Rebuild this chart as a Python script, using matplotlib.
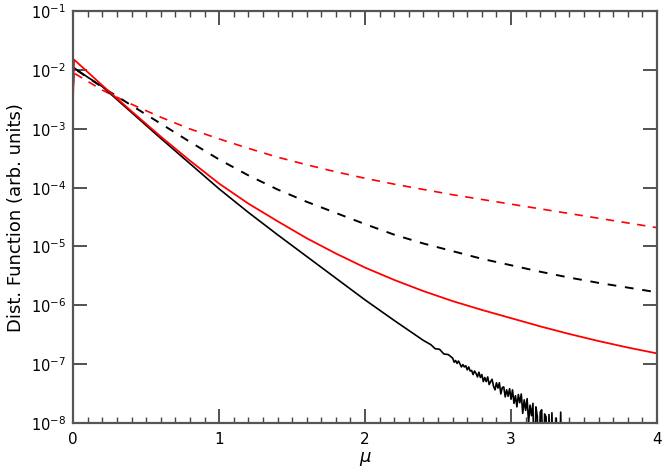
import numpy as np
import matplotlib
matplotlib.use("Agg")
import matplotlib.pyplot as plt
from matplotlib.ticker import FixedLocator, MultipleLocator, NullLocator

# values, stored as log10(distribution)
mu = [0.0, 0.2, 0.4, 0.6, 0.8, 1.0, 1.2, 1.4, 1.6, 1.8, 2.0,
      2.2, 2.4, 2.6, 2.8, 3.0, 3.2, 3.4, 3.6, 3.8, 4.0]

red_dash = [-2.05, -2.34, -2.58, -2.80, -3.00, -3.17, -3.33, -3.48, -3.61, -3.73, -3.84,
            -3.94, -4.03, -4.12, -4.20, -4.28, -4.36, -4.44, -4.52, -4.60, -4.68]
black_dash = [-1.97, -2.29, -2.60, -2.91, -3.22, -3.52, -3.79, -4.03, -4.24, -4.43, -4.62,
              -4.80, -4.95, -5.08, -5.21, -5.32, -5.43, -5.53, -5.62, -5.70, -5.78]
red_solid = [-1.82, -2.26, -2.70, -3.13, -3.54, -3.93, -4.27, -4.57, -4.86, -5.12, -5.36,
             -5.57, -5.76, -5.93, -6.08, -6.22, -6.36, -6.49, -6.61, -6.72, -6.82]

# black solid, smooth part then the noisy Monte-Carlo tail (-9 = empty bin)
mu_bs = [0.0, 0.1, 0.2, 0.4, 0.6, 0.8, 1.0, 1.2, 1.4, 1.6, 1.8, 2.0, 2.2, 2.4,
         2.45, 2.48, 2.51, 2.54, 2.57,
         2.60, 2.61, 2.62, 2.63, 2.64, 2.65, 2.66, 2.67, 2.68, 2.69,
         2.70, 2.71, 2.72, 2.73, 2.74, 2.75, 2.76, 2.77, 2.78, 2.79,
         2.80, 2.81, 2.82, 2.83, 2.84, 2.85, 2.86, 2.87, 2.88, 2.89,
         2.90, 2.91, 2.92, 2.93, 2.94, 2.95, 2.96, 2.97, 2.98, 2.99,
         3.00, 3.01, 3.02, 3.03, 3.04, 3.05, 3.06, 3.07, 3.08, 3.09,
         3.10, 3.11, 3.12, 3.13, 3.14, 3.15, 3.16, 3.17, 3.18, 3.19,
         3.20, 3.21, 3.22, 3.23, 3.24, 3.25, 3.26, 3.27, 3.28, 3.29,
         3.30, 3.31, 3.32, 3.33, 3.34, 3.35]
black_solid = [-1.95, -2.12, -2.28, -2.72, -3.16, -3.59, -4.02, -4.42, -4.80, -5.17, -5.54,
               -5.91, -6.26, -6.60,
               -6.67, -6.74, -6.75, -6.83, -6.84,
               -6.90, -6.97, -6.94, -6.99, -6.95, -7.00, -7.05, -7.01, -7.05, -7.03,
               -7.10, -7.05, -7.12, -7.11, -7.18, -7.12, -7.16, -7.22, -7.14, -7.23,
               -7.18, -7.30, -7.23, -7.30, -7.22, -7.35, -7.30, -7.26, -7.38, -7.44,
               -7.32, -7.41, -7.32, -7.51, -7.40, -7.39, -7.56, -7.44, -7.55, -7.42,
               -7.60, -7.44, -7.67, -7.54, -7.73, -7.52, -7.66, -7.51, -7.84, -7.61,
               -7.79, -7.59, -8.00, -7.70, -7.88, -7.67, -9.00, -7.73, -7.89, -9.00,
               -7.82, -7.78, -9.00, -7.85, -7.90, -9.00, -7.86, -9.00, -7.83, -9.00,
               -9.00, -7.92, -9.00, -9.00, -7.82, -9.00]

# first bins sit lower at mu = 0
start_mu = [0.0, 0.006]
red_solid_start = [-2.40, -1.82]
black_dash_start = [-2.20, -1.97]
red_dash_start = [-2.30, -2.05]

fig = plt.figure(figsize=(6.65, 4.75), dpi=100)
ax = fig.add_axes([0.110, 0.110, 0.878, 0.866])

p = lambda v: 10.0 ** np.array(v)

ax.plot(start_mu + mu[1:], p(red_dash_start + red_dash[1:]), color="red", lw=1.2,
        ls=(0, (5, 4.5)))
ax.plot(start_mu + mu[1:], p(black_dash_start + black_dash[1:]), color="black", lw=1.4,
        ls=(0, (4.5, 4.5)))
ax.plot(mu_bs, p(black_solid), color="black", lw=1.2)
ax.plot(start_mu + mu[1:], p(red_solid_start + red_solid[1:]), color="red", lw=1.3)

ax.set_yscale("log")
ax.set_xlim(0, 4)
ax.set_ylim(1e-8, 1e-1)

ax.xaxis.set_major_locator(MultipleLocator(1))
ax.xaxis.set_minor_locator(MultipleLocator(0.1))
ax.yaxis.set_major_locator(FixedLocator([10.0 ** k for k in range(-8, 0)]))
ax.yaxis.set_minor_locator(NullLocator())
ax.set_yticklabels([r"$10^{%d}$" % k for k in range(-8, 0)])

ax.tick_params(which="both", direction="in", top=True, right=True, colors="#444444",
               labelcolor="black")
ax.tick_params(axis="y", labelsize=10.5, pad=5)
ax.tick_params(axis="x", labelsize=11, pad=7)
ax.tick_params(which="major", length=10, width=1.3)
ax.tick_params(which="minor", length=4.5, width=1.0)
for s in ax.spines.values():
    s.set_linewidth(1.6)
    s.set_color("#555555")

ax.set_xlabel(r"$\mu$", fontsize=13, labelpad=2)
ax.set_ylabel("Dist. Function (arb. units)", fontsize=13, labelpad=4)

fig.savefig("out.png", dpi=100)
